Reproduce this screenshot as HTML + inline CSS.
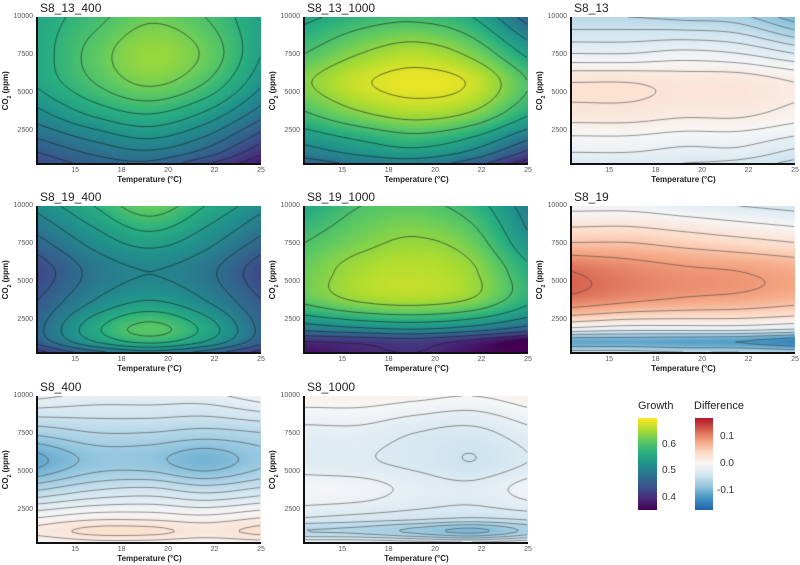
<!DOCTYPE html>
<html><head><meta charset="utf-8">
<style>
html,body{margin:0;padding:0;background:#fff;}
#root{position:relative;width:800px;height:565px;overflow:hidden;font-family:"Liberation Sans",sans-serif;}
canvas{position:absolute;}
.t{position:absolute;white-space:nowrap;color:#222;}
.title{font-size:12px;}
.tick{font-size:7px;color:#555;}
.axt{font-size:8px;font-weight:bold;color:#222;}
.lg{font-size:11px;color:#222;}
.lgt{font-size:10px;color:#333;}
.axl{position:absolute;background:#111;}
</style></head>
<body>
<div id="root"></div>
<script>
// ---- data ----
const temps = [13, 16, 19, 22, 25];
const co2 = [10000, 7600, 5700, 3800, 2000, 1100, 400];
const xTicks = [15, 17.5, 20, 22.5, 25];
const xTickLabels = ["15", "18", "20", "22", "25"];
const yTicks = [2500, 5000, 7500, 10000];
const panelNames = ["S8_13_400","S8_13_1000","S8_13","S8_19_400","S8_19_1000","S8_19","S8_400","S8_1000"];
const panelKinds = ["growth","growth","diff","growth","growth","diff","diff","diff"];
const contourSteps = [0.025, 0.04, 0.015, 0.03, 0.04, 0.03, 0.015, 0.015];
const s8_13_400 = [
 [.56,.59,.62,.60,.55],[.56,.61,.645,.62,.55],[.555,.60,.63,.60,.53],[.52,.56,.58,.55,.49],
 [.475,.505,.525,.495,.435],[.45,.48,.495,.465,.405],[.43,.46,.47,.43,.38]];
const s8_13_1000 = [
 [.55,.58,.59,.56,.46],[.60,.64,.66,.63,.55],[.635,.675,.69,.675,.60],[.60,.64,.66,.64,.57],
 [.535,.565,.585,.555,.485],[.50,.53,.545,.51,.43],[.46,.49,.50,.46,.38]];
const s8_13 = [
 [-.06,-.06,-.065,-.07,-.10],[-.015,-.015,-.01,-.015,-.03],[.03,.03,.025,.025,.015],[.025,.025,.02,.02,.01],
 [-.003,-.003,-.008,-.008,-.018],[-.015,-.015,-.02,-.02,-.035],[-.03,-.03,-.03,-.035,-.05]];
const s8_19_400 = [
 [.52,.57,.62,.57,.52],[.47,.52,.55,.52,.47],[.43,.49,.51,.49,.43],[.45,.51,.54,.51,.45],
 [.47,.56,.61,.56,.47],[.46,.54,.58,.54,.46],[.41,.47,.50,.47,.41]];
const s8_19_1000 = [
 [.56,.60,.61,.58,.50],[.60,.63,.645,.62,.53],[.62,.655,.665,.645,.57],[.61,.645,.655,.635,.57],
 [.50,.52,.53,.51,.47],[.40,.41,.42,.39,.345],[.37,.39,.40,.37,.35]];
const s8_19 = [
 [-.01,-.01,-.02,-.03,-.04],[.06,.06,.05,.04,.03],[.12,.105,.095,.09,.08],[.11,.095,.085,.08,.07],
 [.0,-.01,-.01,-.01,-.02],[-.11,-.11,-.115,-.12,-.14],[-.05,-.05,-.06,-.06,-.07]];
const s8_400 = [
 [-.01,-.02,-.02,-.02,-.005],[-.07,-.06,-.06,-.065,-.06],[-.11,-.085,-.085,-.10,-.08],[-.06,-.045,-.04,-.05,-.04],
 [.0,.01,.01,.005,.015],[.02,.035,.035,.025,.035],[.0,.01,.01,.005,.01]];
const s8_1000 = [
 [.01,.01,.005,.0,.01],[-.02,-.02,-.03,-.035,-.02],[-.025,-.028,-.035,-.045,-.03],[-.005,-.008,-.02,-.025,-.008],
 [-.03,-.035,-.04,-.045,-.04],[-.06,-.065,-.08,-.095,-.07],[-.02,-.02,-.025,-.03,-.02]];
const panelData = [s8_13_400, s8_13_1000, s8_13, s8_19_400, s8_19_1000, s8_19, s8_400, s8_1000];
const growthTicks = [0.4, 0.5, 0.6];
const diffTicks = [-0.1, 0.0, 0.1];

// ---- layout ----
const colX = [38, 305, 572], rowY = [17, 206, 396], PW = 223, PH = 146;
const tMin = 13, tMax = 25, cMin = 400, cMax = 10000;
const gMin = 0.355, gMax = 0.70, dMin = -0.17, dMax = 0.17;
const viridis = ["#440154","#472d7b","#3b528b","#2c728e","#21918c","#28ae80","#5ec962","#addc30","#fde725"];
const rdbu = ["#2166ac","#4393c3","#92c5de","#d1e5f0","#f7f7f7","#fddbc7","#f4a582","#d6604d","#b2182b"];
function hex(h){return [parseInt(h.substr(1,2),16),parseInt(h.substr(3,2),16),parseInt(h.substr(5,2),16)];}
const vir = viridis.map(hex), rb = rdbu.map(hex);
function cmap(stops, f){f=Math.max(0,Math.min(1,f));const p=f*(stops.length-1);const i=Math.min(stops.length-2,Math.floor(p));const t=p-i;
 return [0,1,2].map(k=>stops[i][k]+(stops[i+1][k]-stops[i][k])*t);}
function herm(xs, ys, x){
 const n=xs.length; let i=0; while(i<n-2 && x>xs[i+1]) i++;
 const m=k=>k===0?(ys[1]-ys[0])/(xs[1]-xs[0]):k===n-1?(ys[n-1]-ys[n-2])/(xs[n-1]-xs[n-2]):(ys[k+1]-ys[k-1])/(xs[k+1]-xs[k-1]);
 const h=xs[i+1]-xs[i], t=(x-xs[i])/h, t2=t*t, t3=t2*t;
 return (2*t3-3*t2+1)*ys[i]+(t3-2*t2+t)*h*m(i)+(-2*t3+3*t2)*ys[i+1]+(t3-t2)*h*m(i+1);
}
const co2Asc = co2.slice().reverse();
const root = document.getElementById('root');
function txt(cls, s, x, y, name, extra){const d=document.createElement('div');d.className='t '+cls;d.textContent=s;d.style.left=x+'px';d.style.top=y+'px';
 
 
 if(extra) Object.assign(d.style, extra); root.appendChild(d); return d;}
function line(x,y,w,h,name){const d=document.createElement('div');d.className='axl';d.style.left=x+'px';d.style.top=y+'px';d.style.width=w+'px';d.style.height=h+'px';
 
 
 root.appendChild(d);}
const xScale = (t,x0)=>x0+(t-tMin)/(tMax-tMin)*PW;
const yScale = (c,y0)=>y0+PH-(c-cMin)/(cMax-cMin)*PH;

panelData.forEach((data, p)=>{
 const x0 = colX[p%3], y0 = rowY[Math.floor(p/3)];
 const kind = panelKinds[p];
 const cv = document.createElement('canvas'); cv.width=PW; cv.height=PH; cv.style.left=x0+'px'; cv.style.top=y0+'px';
 
 
 root.appendChild(cv);
 const ctx = cv.getContext('2d');
 const colsAsc = [];
 for(let px=0; px<=PW; px++){
  const T = tMin+(px)/(PW)*(tMax-tMin);
  colsAsc.push(co2Asc.map((c,ri)=>herm(temps, data[co2.length-1-ri], T)));
 }
 const grid=[];
 for(let py=0; py<=PH; py++){
  const C = cMax-(py)/PH*(cMax-cMin); const row=[];
  for(let px=0; px<=PW; px++) row.push(herm(co2Asc, colsAsc[px], C));
  grid.push(row);
 }
 const img = ctx.createImageData(PW, PH);
 for(let py=0; py<PH; py++) for(let px=0; px<PW; px++){
  const v=(grid[py][px]+grid[py][px+1]+grid[py+1][px]+grid[py+1][px+1])/4;
  const col = kind==='growth'? cmap(vir,(v-gMin)/(gMax-gMin)) : cmap(rb,(v-dMin)/(dMax-dMin));
  const o=(py*PW+px)*4; img.data[o]=col[0]; img.data[o+1]=col[1]; img.data[o+2]=col[2]; img.data[o+3]=255;
 }
 ctx.putImageData(img,0,0);
 const step = contourSteps[p];
 let mn=Infinity,mx=-Infinity; grid.forEach(r=>r.forEach(v=>{if(v<mn)mn=v;if(v>mx)mx=v;}));
 ctx.strokeStyle = kind==='growth' ? 'rgba(20,30,30,0.75)' : 'rgba(60,60,60,0.7)';
 ctx.lineWidth = 0.8;
 const S=2;
 for(let lv=Math.ceil(mn/step)*step; lv<mx; lv+=step){
  ctx.beginPath();
  for(let py=0; py+S<=PH; py+=S) for(let px=0; px+S<=PW; px+=S){
   const a=grid[py][px], b=grid[py][px+S], c=grid[py+S][px+S], d=grid[py+S][px];
   const pts=[];
   if((a<lv)!==(b<lv)) pts.push([px+S*(lv-a)/(b-a), py]);
   if((b<lv)!==(c<lv)) pts.push([px+S, py+S*(lv-b)/(c-b)]);
   if((d<lv)!==(c<lv)) pts.push([px+S*(lv-d)/(c-d), py+S]);
   if((a<lv)!==(d<lv)) pts.push([px, py+S*(lv-a)/(d-a)]);
   for(let k=0;k+1<pts.length;k+=2){ctx.moveTo(pts[k][0],pts[k][1]);ctx.lineTo(pts[k+1][0],pts[k+1][1]);}
  }
  ctx.stroke();
 }
 line(x0-2, y0, 1.5, PH+1, 'y-axis-line');
 line(x0-2, y0+PH, PW+2, 1.5, 'x-axis-line');
 txt('title', panelNames[p], x0+2, y0-16, 'panel-title');
 xTicks.forEach((t,i)=>txt('tick', xTickLabels[i], xScale(t,x0)-5, y0+PH+4, 'x-tick-label', {width:'10px',textAlign:'center'}));
 yTicks.forEach(c=>txt('tick', String(c), x0-30, yScale(c,y0)-4, 'y-tick-label', {width:'25px',textAlign:'right'}));
 txt('axt', 'Temperature (°C)', x0+PW/2-40, y0+PH+12, 'x-axis-title', {width:'80px',textAlign:'center'});
 const yt = txt('axt', '', x0-56, y0+PH/2-5, 'y-axis-title', {width:'50px',textAlign:'center',transform:'rotate(-90deg)'});
 yt.innerHTML='CO<sub style="font-size:5px">2</sub> (ppm)';
});

function bar(stops, x, y, w, h, name){
 const cv=document.createElement('canvas'); cv.width=w; cv.height=h; cv.style.left=x+'px'; cv.style.top=y+'px';
 
 
 root.appendChild(cv); const c=cv.getContext('2d');
 for(let i=0;i<h;i++){const col=cmap(stops,1-i/(h-1)); c.fillStyle='rgb('+col.map(Math.round).join(',')+')'; c.fillRect(0,i,w,1);}
 return c;
}
const LY=418, LH=92;
const gc = bar(vir, 638, LY, 19, LH, 'growth-colorbar');
txt('lg','Growth', 638, 400, 'growth-legend-title');
growthTicks.forEach(v=>{const y=LY+LH-(v-gMin)/(gMax-gMin)*LH; gc.fillStyle='rgba(255,255,255,0.8)'; gc.fillRect(0,y-0.5,4,1); gc.fillRect(15,y-0.5,4,1);
 txt('lgt', v.toFixed(1), 662, y-6, 'growth-tick-label');});
const dc = bar(rb, 695, LY, 18, LH, 'difference-colorbar');
txt('lg','Difference', 694, 400, 'difference-legend-title');
diffTicks.forEach(v=>{const y=LY+LH-(v-dMin)/(dMax-dMin)*LH; dc.fillStyle='rgba(255,255,255,0.8)'; dc.fillRect(0,y-0.5,4,1); dc.fillRect(14,y-0.5,4,1);
 txt('lgt', v.toFixed(1), v<0?717:720, y-6, 'difference-tick-label');});
</script>
</body></html>
